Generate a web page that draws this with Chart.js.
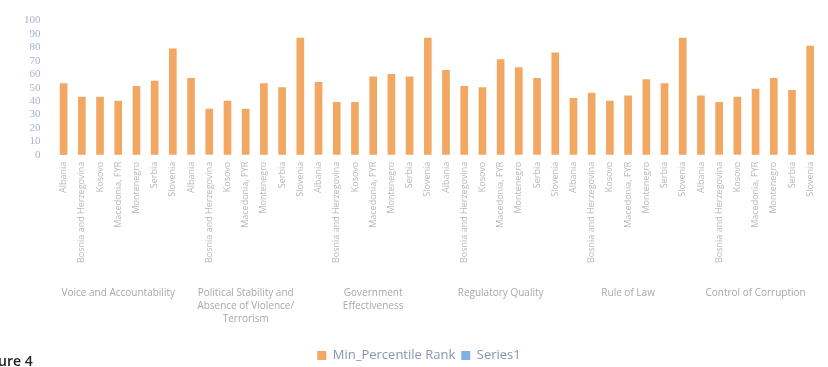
<!DOCTYPE html>
<html>
<head>
<meta charset="utf-8">
<script src="https://cdn.jsdelivr.net/npm/chart.js@4"></script>
<style>
    html, body { margin: 0; padding: 0; background: #fff; overflow: hidden; }
    #wrap { position: relative; width: 828px; height: 367px; }
    #fig { position: absolute; left: -21px; top: 351px; font: 600 14px "Open Sans", sans-serif; color: #222; }
</style>
</head>
<body>
<div id="wrap">
    <canvas id="chart" width="828" height="367"></canvas>
    <div id="fig">Figure 4</div>
</div>
<script>
// Countries repeated within each indicator group
const countries = ['Albania', 'Bosnia and Herzegovina', 'Kosovo', 'Macedonia, FYR', 'Montenegro', 'Serbia', 'Slovenia'];

const groups = [
    'Voice and Accountability',
    ['Political Stability and', 'Absence of Violence/', 'Terrorism'],
    ['Government', 'Effectiveness'],
    'Regulatory Quality',
    'Rule of Law',
    'Control of Corruption'
];

// Min_Percentile Rank, one value per country per group
const minPercentileRank = [
    53, 43, 43, 40, 51, 55, 79,
    57, 34, 40, 34, 53, 50, 87,
    54, 39, 39, 58, 60, 58, 87,
    63, 51, 50, 71, 65, 57, 76,
    42, 46, 40, 44, 56, 53, 87,
    44, 39, 43, 49, 57, 48, 81
];

const series1 = [1];

const yTicks = [0, 10, 20, 30, 40, 50, 60, 70, 80, 90, 100];

const labels = [];
groups.forEach(() => countries.forEach(c => labels.push(c)));

const ctx = document.getElementById('chart').getContext('2d');
new Chart(ctx, {
    type: 'bar',
    data: {
        labels: labels,
        datasets: [
            {
                label: 'Min_Percentile Rank',
                data: minPercentileRank,
                backgroundColor: '#f2a862',
                barThickness: 7,
                grouped: false
            },
            {
                label: 'Series1',
                data: series1,
                backgroundColor: '#7fb0e8',
                barThickness: 5,
                grouped: false
            }
        ]
    },
    options: {
        responsive: false,
        animation: false,
        layout: { padding: { left: 10, right: 0, top: 7, bottom: -5 } },
        plugins: {
            legend: {
                position: 'bottom',
                labels: {
                    boxWidth: 9,
                    boxHeight: 9,
                    color: '#8a93b5',
                    font: { family: 'Open Sans', size: 13 },
                    padding: 6
                }
            },
            tooltip: { enabled: false }
        },
        scales: {
            y: {
                min: 0,
                max: 100,
                afterBuildTicks: axis => { axis.ticks = yTicks.map(v => ({ value: v })); },
                grid: { display: false, drawTicks: false },
                border: { display: false },
                ticks: {
                    autoSkip: false,
                    color: '#a9b3cf',
                    padding: 14,
                    font: { family: 'Liberation Serif', size: 11 }
                }
            },
            x: {
                weight: 0,
                grid: { display: false, drawTicks: false },
                border: { display: false },
                ticks: {
                    autoSkip: false,
                    maxRotation: 90,
                    minRotation: 90,
                    padding: 7,
                    color: '#b8b8b8',
                    font: { family: 'Open Sans', size: 9 }
                }
            },
            groups: {
                type: 'category',
                position: 'bottom',
                weight: 1,
                labels: groups,
                offset: true,
                grid: { display: false, drawTicks: false },
                border: { display: false },
                ticks: {
                    maxRotation: 0,
                    autoSkip: false,
                    padding: 17,
                    color: '#a8a8a8',
                    font: { family: 'Open Sans', size: 10, lineHeight: 1.3 }
                }
            }
        }
    }
});
</script>
</body>
</html>
